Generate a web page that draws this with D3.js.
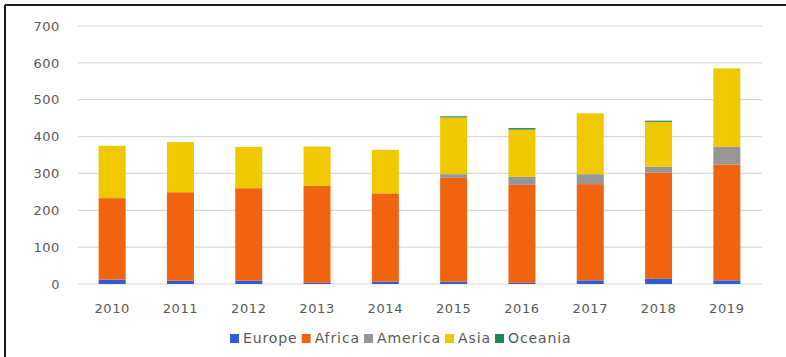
<!DOCTYPE html>
<html><head><meta charset="utf-8">
<script src="https://cdn.jsdelivr.net/npm/d3@7"></script>
<style>
html,body{margin:0;padding:0;background:#fff;}
svg{display:block;}
text{font-family:"DejaVu Sans",sans-serif;fill:#595959;}
</style></head>
<body>
<svg id="chart" width="786" height="357"></svg>
<script>
const years = ["2010","2011","2012","2013","2014","2015","2016","2017","2018","2019"];
const seriesNames = ["Europe","Africa","America","Asia","Oceania"];
const europe  = [12, 9, 9, 3, 6, 6, 3, 10, 14, 10];
const africa  = [221, 240, 251, 263, 240, 282, 266, 261, 288, 314];
const america = [0, 0, 0, 0, 0, 10, 22, 27, 16, 48];
const asia    = [142, 136, 112, 107, 118, 154, 128, 165, 122, 213];
const oceania = [0, 0, 0, 0, 0, 3, 4, 0, 3, 0];
const yTicks  = [0, 100, 200, 300, 400, 500, 600, 700];
const colors  = ["#2f5cd6", "#f0640f", "#969696", "#f0c800", "#16875a"];

const svg = d3.select("#chart");
// frame
svg.append("line").attr("x1",5).attr("x2",786).attr("y1",5).attr("y2",5).attr("stroke","#1a1a1a").attr("stroke-width",2);
svg.append("line").attr("x1",5).attr("x2",5).attr("y1",5).attr("y2",357).attr("stroke","#1a1a1a").attr("stroke-width",2);

const x = d3.scaleBand().domain(years).range([78, 761]).paddingInner(0.6).paddingOuter(0.3);
const y = d3.scaleLinear().domain([0, 700]).range([284, 26]);

// grid
svg.append("g").selectAll("line").data(yTicks).join("line")
  .attr("x1",78).attr("x2",762)
  .attr("y1",d=>y(d)).attr("y2",d=>y(d))
  .attr("stroke","#d9d9d9").attr("stroke-width",1.2);

// y axis labels
const yAxis = d3.axisLeft(y).tickValues(yTicks).tickSize(0).tickPadding(0);
const gy = svg.append("g").attr("transform","translate(60,0)").call(yAxis);
gy.select(".domain").remove();
gy.selectAll("text").style("font-size","13px").style("letter-spacing","0.6px").attr("fill","#595959");

// x axis labels
const xAxis = d3.axisBottom(x).tickSize(0).tickPadding(0);
const gx = svg.append("g").attr("transform","translate(0,304)").call(xAxis);
gx.select(".domain").remove();
gx.selectAll("text").style("font-size","13px").style("letter-spacing","0.6px").attr("fill","#595959");

// stacked data
const table = years.map((yr,i)=>({year:yr, Europe:europe[i], Africa:africa[i], America:america[i], Asia:asia[i], Oceania:oceania[i]}));
const stack = d3.stack().keys(seriesNames)(table);
const bw = 27;
svg.append("g").selectAll("g").data(stack).join("g")
  .attr("fill",(d,i)=>colors[i])
  .selectAll("rect").data(d=>d).join("rect")
  .attr("x",d=>x(d.data.year)+x.bandwidth()/2-bw/2)
  .attr("width",bw)
  .attr("y",d=>y(d[1]))
  .attr("height",d=>y(d[0])-y(d[1]));

// legend
const lg = svg.append("g");
let lx = 230;
seriesNames.forEach((n,i)=>{
  lg.append("rect").attr("x",lx).attr("y",334).attr("width",9).attr("height",9).attr("fill",colors[i]);
  const t = lg.append("text").attr("x",lx+13).attr("y",343).text(n)
    .style("font-size","14px").style("letter-spacing","0.9px");
  const w = t.node().getComputedTextLength();
  lx += 13 + w + 4;
});
</script>
</body></html>
